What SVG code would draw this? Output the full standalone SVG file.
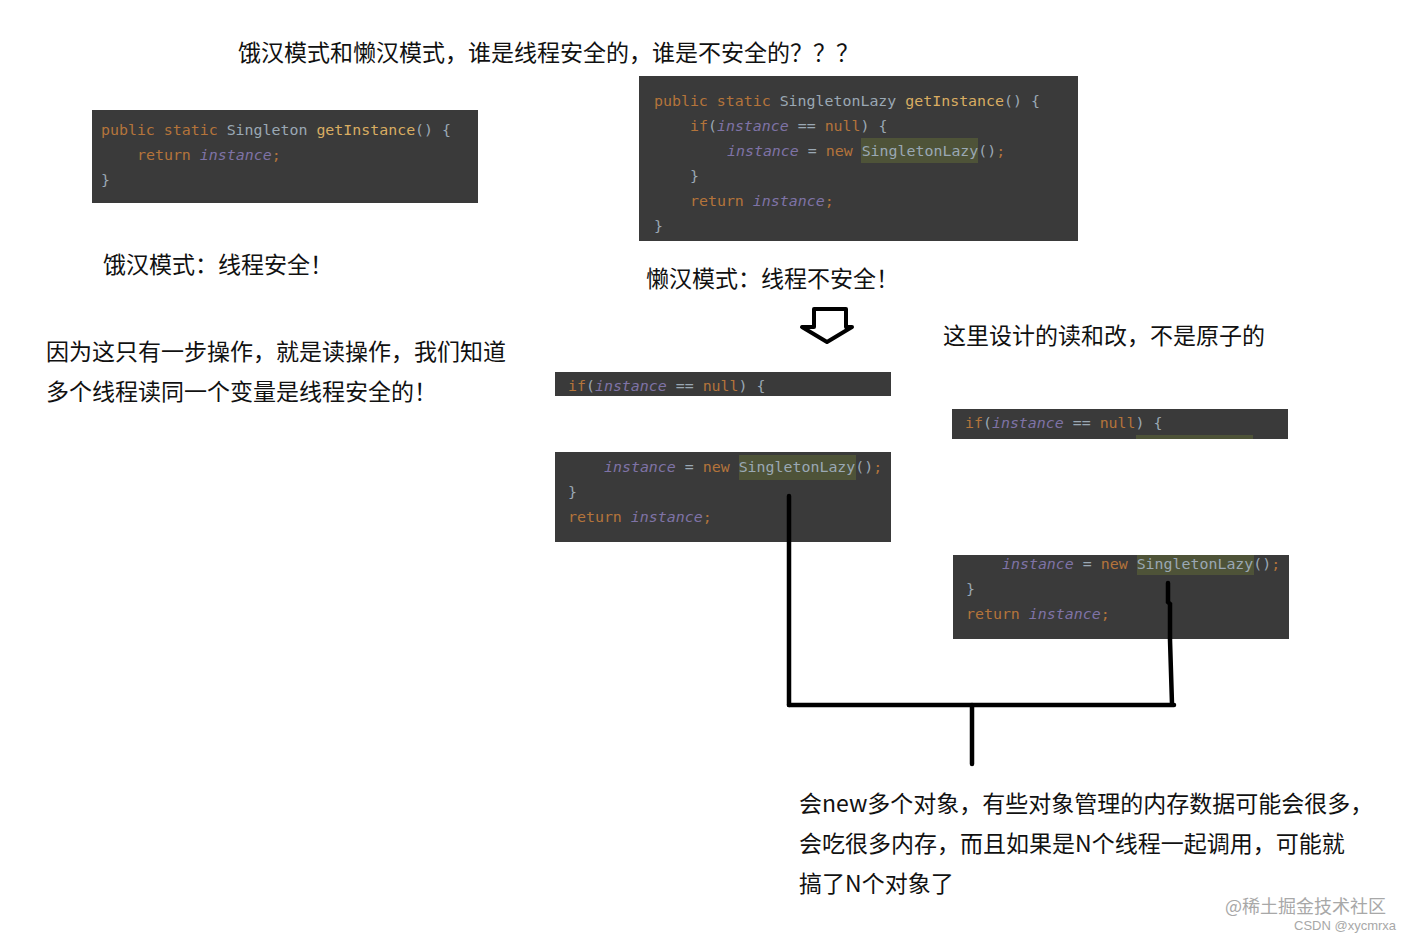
<svg xmlns="http://www.w3.org/2000/svg" width="1411" height="942" viewBox="0 0 1411 942">
<style>
.bg{fill:#3a3a3a}
.hl{fill:#4e5338}
.c{font-family:"DejaVu Sans Mono","Liberation Mono",monospace;font-size:14.92px;fill:#9aa8b4;white-space:pre}
.k{fill:#b4743a}
.m{fill:#d9ad62}
.i{fill:#7f73a6;font-style:italic}
.s{fill:#b4743a}
.t{font-family:"Noto Sans CJK SC","Noto Sans",sans-serif;font-size:23px;fill:#111}
.w{fill:none;stroke:#000;stroke-width:4.5;stroke-linecap:round}
</style>
<rect width="1411" height="942" fill="#fff"/>
<g id="title"><text class="t" x="238" y="61">饿汉模式和懒汉模式，谁是线程安全的，谁是不安全的？？？</text></g>
<g id="code-eager">
<rect class="bg" x="92" y="110" width="386" height="93"/>
<text class="c" x="101" y="135"><tspan class="k">public static</tspan> Singleton <tspan class="m">getInstance</tspan>() {</text>
<text class="c" x="137" y="160"><tspan class="k">return</tspan> <tspan class="i">instance</tspan><tspan class="s">;</tspan></text>
<text class="c" x="101" y="185">}</text>
</g>
<g id="code-lazy">
<rect class="bg" x="639" y="76" width="439" height="165"/>
<rect class="hl" x="861" y="138" width="117" height="25"/>
<text class="c" x="654" y="106"><tspan class="k">public static</tspan> SingletonLazy <tspan class="m">getInstance</tspan>() {</text>
<text class="c" x="690" y="131"><tspan class="k">if</tspan>(<tspan class="i">instance</tspan> == <tspan class="k">null</tspan>) {</text>
<text class="c" x="727" y="156"><tspan class="i">instance</tspan> = <tspan class="k">new</tspan> SingletonLazy()<tspan class="s">;</tspan></text>
<text class="c" x="690" y="181">}</text>
<text class="c" x="690" y="206"><tspan class="k">return</tspan> <tspan class="i">instance</tspan><tspan class="s">;</tspan></text>
<text class="c" x="654" y="231">}</text>
</g>
<g id="label-eager"><text class="t" x="103" y="273">饿汉模式：线程安全！</text></g>
<g id="label-lazy"><text class="t" x="646" y="287">懒汉模式：线程不安全！</text></g>
<g id="note-eager">
<text class="t" x="46" y="360">因为这只有一步操作，就是读操作，我们知道</text>
<text class="t" x="46" y="400">多个线程读同一个变量是线程安全的！</text>
</g>
<g id="note-race"><text class="t" x="943" y="344">这里设计的读和改，不是原子的</text></g>
<g id="arrow-down"><path d="M814 309H846V327H852L827 342L802 327H814Z" fill="#fff" stroke="#000" stroke-width="4" stroke-linejoin="round"/></g>
<g id="code-a1">
<rect class="bg" x="555" y="372" width="336" height="24"/>
<text class="c" x="568" y="391"><tspan class="k">if</tspan>(<tspan class="i">instance</tspan> == <tspan class="k">null</tspan>) {</text>
</g>
<g id="code-a2">
<rect class="bg" x="555" y="452" width="336" height="90"/>
<rect class="hl" x="739" y="455" width="117" height="25"/>
<text class="c" x="604" y="472"><tspan class="i">instance</tspan> = <tspan class="k">new</tspan> SingletonLazy()<tspan class="s">;</tspan></text>
<text class="c" x="568" y="497">}</text>
<text class="c" x="568" y="522"><tspan class="k">return</tspan> <tspan class="i">instance</tspan><tspan class="s">;</tspan></text>
</g>
<g id="code-b1">
<rect class="bg" x="952" y="409" width="336" height="30"/>
<rect class="hl" x="1136" y="435" width="117" height="4"/>
<text class="c" x="965" y="428"><tspan class="k">if</tspan>(<tspan class="i">instance</tspan> == <tspan class="k">null</tspan>) {</text>
</g>
<g id="code-b2">
<rect class="bg" x="953" y="555" width="336" height="84"/>
<rect class="hl" x="1137" y="555" width="117" height="20"/>
<text class="c" x="1002" y="569"><tspan class="i">instance</tspan> = <tspan class="k">new</tspan> SingletonLazy()<tspan class="s">;</tspan></text>
<text class="c" x="966" y="594">}</text>
<text class="c" x="966" y="619"><tspan class="k">return</tspan> <tspan class="i">instance</tspan><tspan class="s">;</tspan></text>
</g>
<g id="connectors">
<path class="w" d="M789 496V705"/>
<path class="w" d="M1168 583V602L1170 604V640L1172 704"/>
<path class="w" d="M789 705H1174"/>
<path class="w" d="M972 705V764"/>
</g>
<g id="note-new">
<text class="t" x="799" y="812">会new多个对象，有些对象管理的内存数据可能会很多，</text>
<text class="t" x="799" y="852">会吃很多内存，而且如果是N个线程一起调用，可能就</text>
<text class="t" x="799" y="892">搞了N个对象了</text>
</g>
<g id="watermark">
<text x="1225" y="913" font-family="'Noto Sans CJK SC',sans-serif" font-size="18" fill="#a8a8a8">@稀土掘金技术社区</text>
<text x="1294" y="930" font-family="'Liberation Sans',sans-serif" font-size="13" fill="#a8a8a8">CSDN @xycmrxa</text>
</g>
</svg>
